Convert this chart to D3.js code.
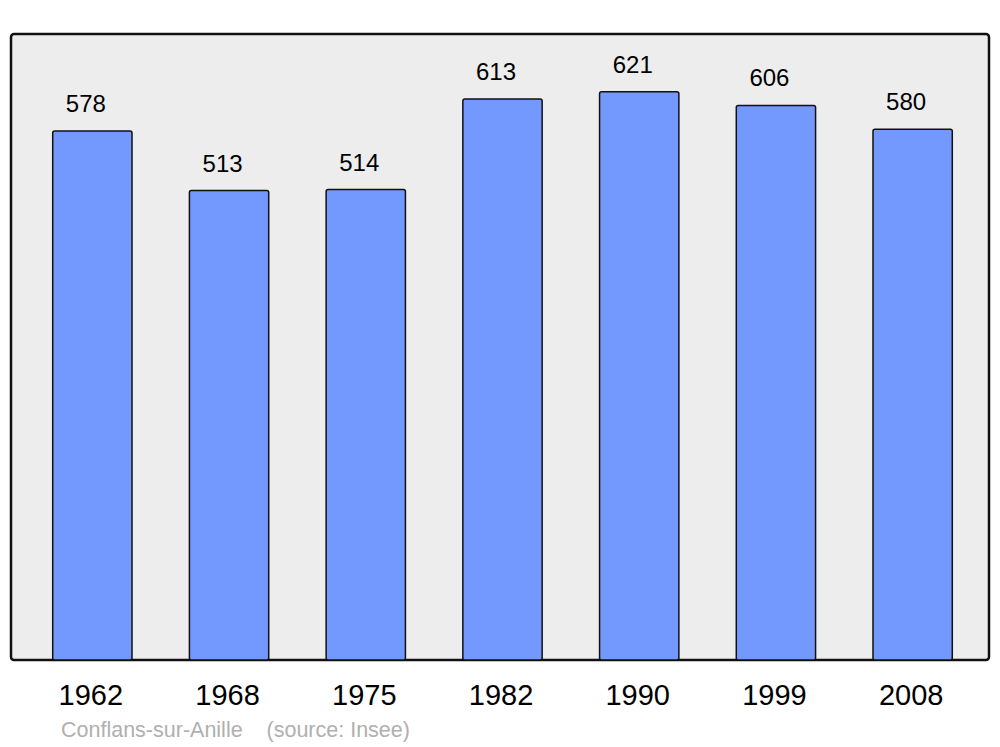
<!DOCTYPE html>
<html><head><meta charset="utf-8">
<script src="https://cdn.jsdelivr.net/npm/d3@7"></script>
<style>body{margin:0;background:#fff}svg{display:block}text{font-family:"Liberation Sans",Arial,sans-serif}</style>
</head><body>
<svg id="c" width="1000" height="747"></svg>
<script>
const years = ["1962","1968","1975","1982","1990","1999","2008"];
const population = [578,513,514,613,621,606,580];
const caption = "Conflans-sur-Anille    (source: Insee)";

const svg = d3.select("#c");
const x = d3.scaleBand().domain(years).range([24, 981]).paddingInner(0.42).paddingOuter(0.21);
const y = d3.scaleLinear().domain([0, 684]).range([660, 34]);

svg.append("rect").attr("x",11).attr("y",34).attr("width",978).attr("height",626)
  .attr("rx",3).attr("fill","#ededed").attr("stroke","#111").attr("stroke-width",2.5);

svg.selectAll("rect.bar").data(years).join("rect").attr("class","bar")
  .attr("x", d => x(d)).attr("width", x.bandwidth())
  .attr("y", (d,i) => y(population[i])).attr("height", (d,i) => y(0) - y(population[i]))
  .attr("rx",2).attr("fill","#7399ff").attr("stroke","#111").attr("stroke-width",1.5);

svg.selectAll("text.val").data(years).join("text").attr("class","val")
  .attr("x", d => x(d) + x.bandwidth()/2 - 6.5).attr("y", (d,i) => y(population[i]) - 19)
  .attr("text-anchor","middle").attr("font-size",24).attr("fill","#000")
  .text((d,i) => population[i]);

const xAxis = svg.append("g").attr("transform","translate(-1.5,660)")
  .call(d3.axisBottom(x).tickSize(0).tickPadding(0));
xAxis.select(".domain").remove();
xAxis.selectAll("text").attr("y",45).attr("dy",0).attr("font-size",29).attr("fill","#000")
  .style("font-family",'"Liberation Sans",Arial,sans-serif');

svg.append("text").attr("x",61).attr("y",737).attr("font-size",21.5).attr("fill","#b0b0b0")
  .style("white-space","pre").text(caption);
</script>
</body></html>
